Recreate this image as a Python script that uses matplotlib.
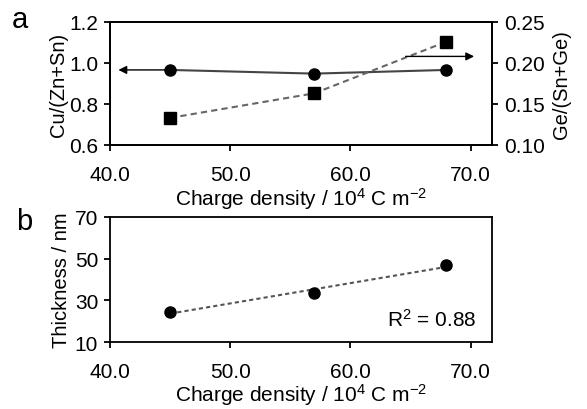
import numpy as np
import matplotlib
matplotlib.use("Agg")
import matplotlib.pyplot as plt

plt.rcParams['font.family'] = ['Liberation Sans', 'DejaVu Sans']
plt.rcParams['mathtext.fontset'] = 'custom'
plt.rcParams['mathtext.rm'] = 'Liberation Sans'
plt.rcParams['mathtext.it'] = 'Liberation Sans'

charge = [45.0, 57.0, 68.0]
cu_ratio = [0.966, 0.948, 0.966]
ge_ratio = [0.133, 0.163, 0.226]
thickness = [24.5, 33.5, 47.0]
r2_text = "R$^{2}$ = 0.88"
xticks = [40.0, 50.0, 60.0, 70.0]

fig = plt.figure(figsize=(5.87, 4.10), dpi=100)
ax1 = fig.add_axes([0.1874, 0.644, 0.651, 0.300])
ax2 = fig.add_axes([0.1874, 0.1634, 0.651, 0.305])

fs = 15
lfs = 14.5
xlab = "Charge density / 10$^{4}$ C m$^{-2}$"

def style(ax):
    for s in ax.spines.values():
        s.set_linewidth(1.3)
    ax.tick_params(axis='both', direction='out', length=4.5, width=1.3, labelsize=fs)
    ax.tick_params(axis='x', pad=10)
    ax.tick_params(axis='y', pad=4)
    ax.set_xlim(40, 71.8)
    ax.set_xticks(xticks)
    ax.set_xticklabels([f"{t:.1f}" for t in xticks])

# Panel a
style(ax1)
ax1.plot(charge, cu_ratio, '-', color='#444444', lw=1.5, marker='o', ms=8,
         mfc='black', mec='black', zorder=3)
ax1.set_ylim(0.6, 1.2)
ax1.set_yticks([0.6, 0.8, 1.0, 1.2])
ax1.set_yticklabels(["0.6", "0.8", "1.0", "1.2"])
ax1.set_ylabel("Cu/(Zn+Sn)", fontsize=lfs, labelpad=1)
ax1.set_xlabel(xlab, fontsize=fs, labelpad=1)
ax1.annotate("", xy=(40.7, cu_ratio[0]), xytext=(charge[0], cu_ratio[0]),
             arrowprops=dict(arrowstyle='-|>', color='black', lw=1.0,
                             mutation_scale=12, shrinkA=0, shrinkB=0))

ax1r = ax1.twinx()
ax1r.plot(charge, ge_ratio, '--', color='#666666', lw=1.5, marker='s', ms=8.5,
          mfc='black', mec='black', dashes=(3, 2), zorder=3)
ax1r.set_ylim(0.10, 0.25)
ax1r.set_yticks([0.10, 0.15, 0.20, 0.25])
ax1r.set_yticklabels(["0.10", "0.15", "0.20", "0.25"])
ax1r.tick_params(direction='out', length=4.5, width=1.3, labelsize=fs, pad=4)
for s in ax1r.spines.values():
    s.set_linewidth(1.3)
ax1r.set_ylabel("Ge/(Sn+Ge)", fontsize=lfs, labelpad=5)
ax1r.annotate("", xy=(70.3, 0.208), xytext=(64.6, 0.208),
              arrowprops=dict(arrowstyle='-|>', color='black', lw=1.0,
                              mutation_scale=12, shrinkA=0, shrinkB=0))

# Panel b
style(ax2)
coef = np.polyfit(charge, thickness, 1)
xf = np.array([charge[0], charge[-1]])
ax2.plot(xf, np.polyval(coef, xf), color='#555555', lw=1.5, dashes=(2, 1.5))
ax2.plot(charge, thickness, 'o', ms=8, mfc='black', mec='black', zorder=3)
ax2.set_ylim(10, 70)
ax2.set_yticks([10, 30, 50, 70])
ax2.set_ylabel("Thickness / nm", fontsize=lfs, labelpad=3)
ax2.set_xlabel(xlab, fontsize=fs, labelpad=0)
ax2.text(0.96, 0.13, r2_text, transform=ax2.transAxes, ha='right', va='baseline',
         fontsize=fs)

fig.text(0.020, 0.932, "a", fontsize=21, va='baseline')
fig.text(0.027, 0.439, "b", fontsize=21, va='baseline')

fig.savefig("out.png", dpi=100)
